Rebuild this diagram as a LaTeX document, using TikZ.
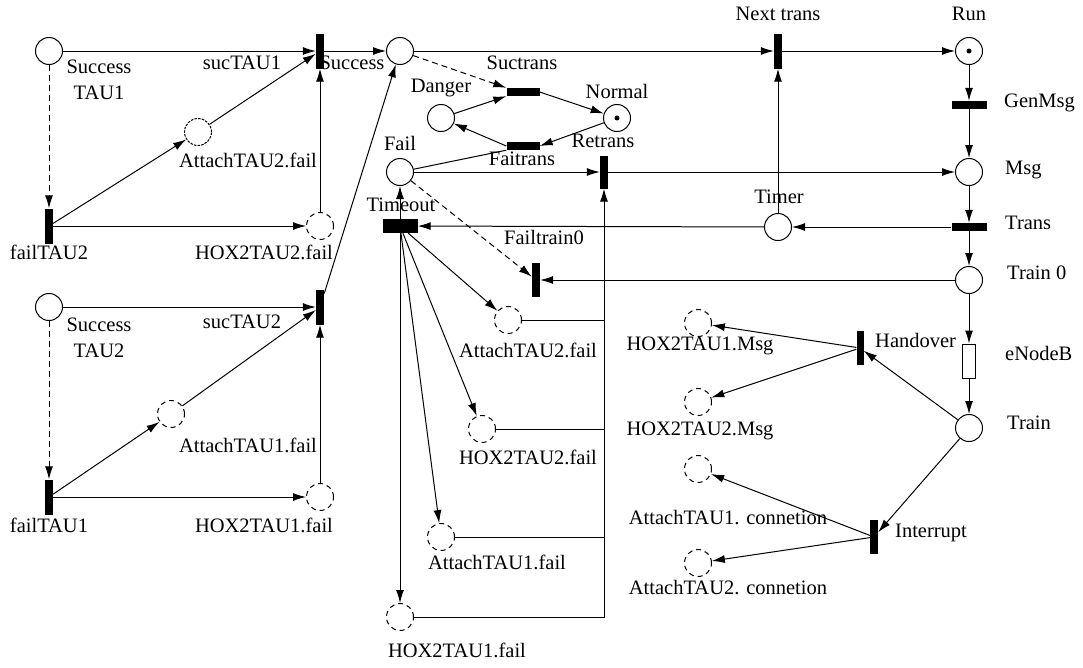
\documentclass[tikz,border=0pt]{standalone}
\usepackage{fontspec}
\setmainfont{Liberation Serif}
\usetikzlibrary{arrows.meta}
\tikzset{
  place/.style={circle,draw,line width=1pt,minimum size=27pt,inner sep=0pt},
  dplace/.style={place,dash pattern=on 5pt off 4pt},
  ddplace/.style={place,dash pattern=on 2.5pt off 1.2pt},
  vbar/.style={rectangle,fill=black,draw=none,minimum width=8pt,minimum height=35pt,inner sep=0pt},
  hbar/.style={rectangle,fill=black,draw=none,minimum width=35pt,minimum height=8pt,inner sep=0pt},
  tok/.style={circle,fill=black,minimum size=5pt,inner sep=0pt},
  lab/.style={font=\fontsize{20.5}{26}\selectfont,inner sep=0pt,text height=0.68em,text depth=0.2em},
  lab2/.style={font=\fontsize{20.5}{26}\selectfont,inner sep=0pt,align=center},
  arr/.style={-{Latex[length=13pt,width=8pt]},line width=1pt},
  darr/.style={arr,dash pattern=on 6pt off 4pt},
  ln/.style={line width=1pt}
}
\begin{document}
\begin{tikzpicture}[x=1pt,y=-1pt]
\useasboundingbox (0,0) rectangle (1083,667);
% places and transitions
\node[place] (ST1) at (49,51) {};
\node[vbar] (sucT1) at (320,51) {};
\node[place] (Succ) at (400,51) {};
\node[vbar] (Next) at (778,51) {};
\node[place] (Run) at (969,51) {};
\node[tok] (RunTok) at (969,51) {};
\node[hbar] (GenMsg) at (969,105) {};
\node[place] (Msg) at (969,172) {};
\node[hbar] (Trans) at (969,227) {};
\node[place] (Timer) at (778,227) {};
\node[place] (Train0) at (969,280) {};
\node[rectangle,draw,line width=1pt,fill=white,minimum width=13pt,minimum height=34pt,inner sep=0pt] (eNodeB) at (969,361) {};
\node[place] (Train) at (969,428) {};
\node[place] (Danger) at (441,118) {};
\node[place] (Normal) at (617,118) {};
\node[tok] (NormTok) at (617,118) {};
\node[hbar,minimum width=33pt] (Suctrans) at (523,92) {};
\node[hbar,minimum width=33pt] (Faitrans) at (523,146) {};
\node[place] (Fail) at (400,172) {};
\node[vbar,minimum height=33pt] (Retrans) at (604,172) {};
\node[hbar,minimum height=14pt] (Timeout) at (400,226) {};
\node[vbar,minimum height=34pt] (Failtrain) at (536,280) {};
\node[ddplace] (AT2ft) at (198,132) {};
\node[vbar] (failTAU2) at (49,226) {};
\node[dplace] (H2fl) at (320,226) {};
\node[place] (ST2) at (49,307) {};
\node[vbar] (sucT2) at (320,307) {};
\node[dplace] (AT1fl) at (171,414) {};
\node[vbar] (failTAU1) at (49,497) {};
\node[dplace] (H1fl) at (320,497) {};
\node[dplace] (A2m) at (508,320) {};
\node[dplace] (H2m) at (482,429) {};
\node[dplace] (A1m) at (441,537) {};
\node[dplace] (H1m) at (400,617) {};
\node[vbar,minimum width=7pt,minimum height=34pt] (Handover) at (860,348) {};
\node[dplace] (H1Msg) at (698,323) {};
\node[dplace] (H2Msg) at (698,402) {};
\node[vbar,minimum height=34pt] (Interrupt) at (874,537) {};
\node[dplace] (AC1) at (698,469) {};
\node[dplace] (AC2) at (698,563) {};
% labels
\node[lab2] (lST1) at (99,80) {Success\\TAU1};
\node[lab] (lsucT1) at (242,67) {sucTAU1};
\node[lab] (lSucc) at (352,67) {Success};
\node[lab] (lNext) at (778,18) {Next trans};
\node[lab] (lRun) at (969,18) {Run};
\node[lab,anchor=west] (lGenMsg) at (1004,105) {GenMsg};
\node[lab,anchor=west] (lMsg) at (1005,172) {Msg};
\node[lab,anchor=west] (lTrans) at (1005,227) {Trans};
\node[lab] (lTimer) at (779,201) {Timer};
\node[lab,anchor=west] (lTrain0) at (1007,277) {Train 0};
\node[lab,anchor=west] (leNodeB) at (1005,358) {eNodeB};
\node[lab,anchor=west] (lTrain) at (1007,427) {Train};
\node[lab] (lDanger) at (441,90) {Danger};
\node[lab] (lNormal) at (617,96) {Normal};
\node[lab] (lSuctrans) at (522,67) {Suctrans};
\node[lab] (lFaitrans) at (522,163) {Faitrans};
\node[lab] (lFail) at (400,148) {Fail};
\node[lab] (lRetrans) at (603,145) {Retrans};
\node[lab] (lTimeout) at (401,209) {Timeout};
\node[lab] (lFailtrain) at (544,242) {Failtrain0};
\node[lab] (lfailTAU2) at (49,257) {failTAU2};
\node[lab] (lAT2ft) at (248,165) {AttachTAU2.fail};
\node[lab] (lH2fl) at (264,257) {HOX2TAU2.fail};
\node[lab2] (lST2) at (99,338) {Success\\TAU2};
\node[lab] (lsucT2) at (242,326) {sucTAU2};
\node[lab] (lAT1fl) at (248,450) {AttachTAU1.fail};
\node[lab] (lfailTAU1) at (49,530) {failTAU1};
\node[lab] (lH1fl) at (264,530) {HOX2TAU1.fail};
\node[lab] (lA2m) at (528,355) {AttachTAU2.fail};
\node[lab] (lH2m) at (528,462) {HOX2TAU2.fail};
\node[lab] (lA1m) at (497,567) {AttachTAU1.fail};
\node[lab] (lH1m) at (457,655) {HOX2TAU1.fail};
\node[lab,anchor=west] (lHandover) at (875,345) {Handover};
\node[lab,anchor=west] (lInterrupt) at (895,535) {Interrupt};
\node[lab] (lH1Msg) at (700,348) {HOX2TAU1.Msg};
\node[lab] (lH2Msg) at (700,433) {HOX2TAU2.Msg};
\node[lab] (lAC1) at (728,522) {AttachTAU1. connetion};
\node[lab] (lAC2) at (728,592) {AttachTAU2. connetion};
% connectors: top line
\draw[arr] (ST1) -- (sucT1);
\draw[arr] (sucT1) -- (Succ);
\draw[arr] (Succ) -- (Next);
\draw[arr] (Next) -- (Run);
\draw[arr] (Run) -- (GenMsg);
\draw[arr] (GenMsg) -- (Msg);
\draw[arr] (Msg) -- (Trans);
\draw[arr] (Trans) -- (Timer);
\draw[arr] (Timer) -- (Next);
\draw[arr] (Timer) -- (Timeout);
\draw[arr] (Trans) -- (Train0);
\draw[arr] (Train0) -- (Failtrain);
\draw[arr] (Train0) -- (eNodeB);
\draw[arr] (eNodeB) -- (Train);
\draw[arr] (Train) -- (Handover);
\draw[arr] (Handover) -- (H1Msg);
\draw[arr] (Handover) -- (H2Msg);
\draw[arr] (Train) -- (Interrupt);
\draw[arr] (Interrupt) -- (AC1);
\draw[arr] (Interrupt) -- (AC2);
% danger / normal
\draw[darr] (Succ) -- (Suctrans.north west);
\draw[arr] (Danger) -- (Suctrans.south west);
\draw[arr] (Suctrans.east) -- (Normal);
\draw[arr] (Normal) -- (Faitrans.east);
\draw[arr] (Faitrans.west) -- (Danger);
\draw[ln] (Fail) -- (Faitrans.south west);
% fail branch
\draw[arr] (Fail) -- (Retrans);
\draw[arr] (Retrans) -- (Msg);
\draw[arr] (Timeout) -- (Fail);
\draw[darr] (Fail) -- (Failtrain);
\draw[arr] (Timeout) -- (A2m);
\draw[arr] (Timeout) -- (H2m);
\draw[arr] (Timeout) -- (A1m);
\draw[arr] (Timeout) -- (H1m);
\draw[ln] (A2m.east) -- (A2m -| Retrans);
\draw[ln] (H2m.east) -- (H2m -| Retrans);
\draw[ln] (A1m.east) -- (A1m -| Retrans);
\draw[arr] (H1m.east) -| (Retrans.south);
% left side
\draw[darr] (ST1) -- (failTAU2);
\draw[arr] (failTAU2) -- (AT2ft);
\draw[arr] (AT2ft) -- (sucT1);
\draw[arr] (failTAU2) -- (H2fl);
\draw[arr] (H2fl) -- (sucT1);
\draw[arr] (ST2) -- (sucT2);
\draw[arr] (sucT2) -- (Succ);
\draw[darr] (ST2) -- (failTAU1);
\draw[arr] (failTAU1) -- (AT1fl);
\draw[arr] (AT1fl) -- (sucT2);
\draw[arr] (failTAU1) -- (H1fl);
\draw[arr] (H1fl) -- (sucT2);
\end{tikzpicture}
\end{document}
